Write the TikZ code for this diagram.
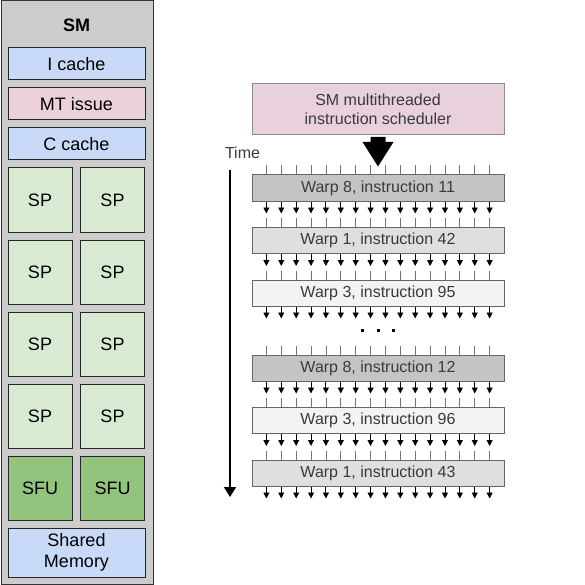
\documentclass[tikz,border=0pt]{standalone}
\usepackage{fontspec}
\setmainfont{Liberation Sans}
\usetikzlibrary{arrows.meta,calc}
\definecolor{smgray}{HTML}{CCCCCC}
\definecolor{cblue}{HTML}{C9DAF8}
\definecolor{cpink}{HTML}{EAD1DC}
\definecolor{cspg}{HTML}{D9EAD3}
\definecolor{csfu}{HTML}{93C47D}
\definecolor{schpink}{HTML}{E8D1DD}
\definecolor{wdark}{HTML}{C4C4C4}
\definecolor{wmid}{HTML}{DFDFDF}
\definecolor{wlight}{HTML}{F3F3F3}
\definecolor{txtgray}{HTML}{3A3A3A}
\tikzset{
  unitbox/.style={draw=black!85, line width=1pt, inner sep=0pt, align=center,
    font=\fontsize{18}{21}\selectfont},
  widebox/.style={unitbox, minimum width=137pt, minimum height=32pt},
  spbox/.style={unitbox, fill=cspg, minimum width=64pt, minimum height=64pt},
  sfubox/.style={unitbox, fill=csfu, minimum width=64pt, minimum height=64pt},
  warpbox/.style={draw=black!60, line width=1pt, minimum width=252pt, minimum height=26pt,
    inner sep=0pt, text=txtgray, font=\fontsize{16}{18}\selectfont},
  tickline/.style={draw=black!55, line width=0.8pt},
  outarrow/.style={draw=black, line width=0.9pt, -{Triangle[width=6pt,length=6pt]}},
}
\begin{document}
\begin{tikzpicture}[x=1pt,y=-1pt]
\useasboundingbox (0,0) rectangle (585,585);
% ---- left SM panel
\node[draw=black!80, fill=smgray, line width=1pt, minimum width=152pt, minimum height=583pt, inner sep=0pt] (sm) at (77,292.5) {};
\node[font=\fontsize{18}{21}\selectfont\bfseries] (smlabel) at (76.5,25) {SM};
\node[widebox, fill=cblue] (icache) at (76.5,64) {I cache};
\node[widebox, fill=cpink] (mtissue) at (76.5,104) {MT issue};
\node[widebox, fill=cblue] (ccache) at (76.5,144) {C cache};
\node[spbox] (sp1) at (40,200) {SP};
\node[spbox] (sp2) at (112.5,200) {SP};
\node[spbox] (sp3) at (40,272) {SP};
\node[spbox] (sp4) at (112.5,272) {SP};
\node[spbox] (sp5) at (40,344) {SP};
\node[spbox] (sp6) at (112.5,344) {SP};
\node[spbox] (sp7) at (40,416) {SP};
\node[spbox] (sp8) at (112.5,416) {SP};
\node[sfubox] (sfu1) at (40,488) {SFU};
\node[sfubox] (sfu2) at (112.5,488) {SFU};
\node[widebox, fill=cblue, minimum height=49pt] (shmem) at (76.5,552.5) {Shared\\Memory};
% ---- right: scheduler
\node[draw=black!45, fill=schpink, line width=1pt, minimum width=252pt, minimum height=51pt,
  inner sep=0pt, align=center, text=txtgray, font=\fontsize{16}{19.5}\selectfont] (sched) at (378,109.5)
  {SM multithreaded\\instruction scheduler};
% big arrow
\fill[black] ($(sched.south)+(-7.5,1.5)$) -- ++(15,0) -- ++(0,5) -- ++(8,0)
  -- ($(sched.south)+(0,31)$) -- ($(sched.south)+(-15.5,6.5)$) -- ++(8,0) -- cycle;
% time
\node[text=txtgray, font=\fontsize{16}{18}\selectfont] (timelbl) at (242.5,153) {Time};
\coordinate (tstart) at (230,170);
\coordinate (tend) at (230,497);
\draw[line width=1.6pt, -{Triangle[width=12pt,length=10pt]}] (tstart) -- (tend);
% warps
\node[warpbox, fill=wdark] (w1) at (378,188) {Warp 8, instruction 11};
\node[warpbox, fill=wmid] (w2) at (378,240.5) {Warp 1, instruction 42};
\node[warpbox, fill=wlight] (w3) at (378,293) {Warp 3, instruction 95};
\node[warpbox, fill=wdark] (w4) at (378,368) {Warp 8, instruction 12};
\node[warpbox, fill=wlight] (w5) at (378,420.5) {Warp 3, instruction 96};
\node[warpbox, fill=wmid] (w6) at (378,473) {Warp 1, instruction 43};
\foreach \w in {w1,w2,w3,w4,w5,w6}{
  \foreach \k in {1,...,16}{
    \coordinate (top) at ($(\w.north west)!\k/17!(\w.north east)$);
    \coordinate (bot) at ($(\w.south west)!\k/17!(\w.south east)$);
    \draw[tickline] (top) -- ++(0,-9);
    \draw[outarrow] (bot) -- ++(0,12);
  }
}
% dots
\foreach \dx in {-16,0,15}{
  \fill[black] ($(w3.south)!0.5!(w4.north)+(\dx,0)+(-1.5,-1.5)$) rectangle ++(3,3);
}
\end{tikzpicture}
\end{document}
